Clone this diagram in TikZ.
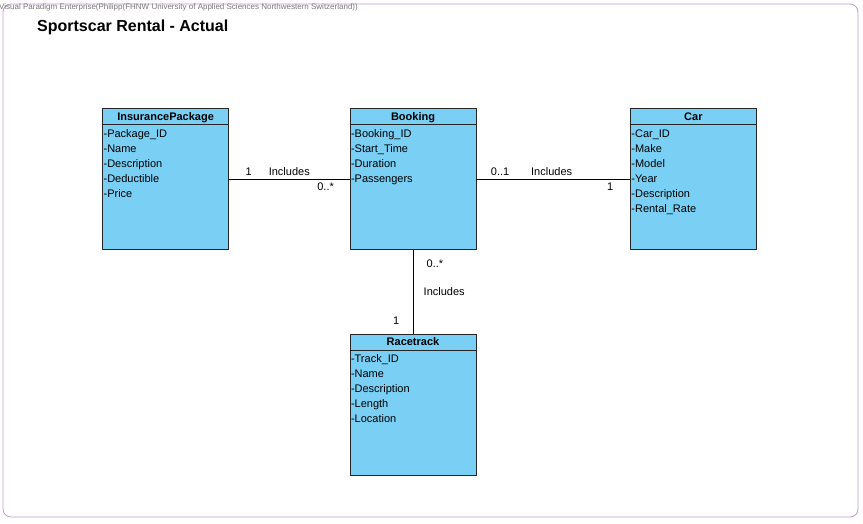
\documentclass[tikz,border=0pt]{standalone}
\usepackage{fontspec}
\setmainfont{Liberation Sans}
\usetikzlibrary{positioning}
\definecolor{classfill}{RGB}{122,207,245}
\definecolor{frameline}{RGB}{190,156,204}
\definecolor{stampgray}{RGB}{120,120,120}
\tikzset{
  classbox/.style={rectangle, draw=black!85, fill=classfill,
                   minimum width=126pt, minimum height=141pt, inner sep=0pt},
  classhead/.style={anchor=base, inner sep=0pt,
                    font=\fontsize{11}{13}\selectfont\bfseries},
  attrs/.style={anchor=north west, align=left, inner sep=1pt,
                font=\fontsize{11}{15}\selectfont},
  assoc/.style={draw=black, line width=0.8pt},
  mult/.style={font=\fontsize{11}{13}\selectfont},
}

\begin{document}
\begin{tikzpicture}[x=1pt, y=-1pt]
  \useasboundingbox (0,0) rectangle (863,523);
  \draw[frameline, line width=0.8pt, rounded corners=8pt] (3,4) rectangle (858,517);
  \node[anchor=west, inner sep=0pt, text=stampgray, font=\fontsize{8}{9}\selectfont]
    (stamp) at (-1,7) {Visual Paradigm Enterprise(Philipp(FHNW University of Applied Sciences Northwestern Switzerland))};
  \node[anchor=west, inner sep=0pt, font=\fontsize{16}{18}\selectfont\bfseries]
    (title) at (37,27) {Sportscar Rental - Actual};

  % classes
  \node[classbox]                      (booking)   at (413,179) {};
  \node[classbox, left=121pt of booking]  (insurance) {};
  \node[classbox, right=154pt of booking] (car)       {};
  \node[classbox, below=84pt of booking]  (racetrack) {};

  \foreach \cls/\name in {insurance/InsurancePackage, booking/Booking,
                          car/Car, racetrack/Racetrack} {
    \node[classhead] (\cls-head) at ([yshift=-12pt]\cls.north) {\name};
    \draw[black!85] ([yshift=-16pt]\cls.north west) -- ([yshift=-16pt]\cls.north east);
  }

  \node[attrs] (insurance-attrs) at ([shift={(0pt,-20pt)}]insurance.north west)
    {-Package\_ID\\-Name\\-Description\\-Deductible\\-Price};
  \node[attrs] (booking-attrs) at ([shift={(0pt,-20pt)}]booking.north west)
    {-Booking\_ID\\-Start\_Time\\-Duration\\-Passengers};
  \node[attrs] (car-attrs) at ([shift={(0pt,-20pt)}]car.north west)
    {-Car\_ID\\-Make\\-Model\\-Year\\-Description\\-Rental\_Rate};
  \node[attrs] (racetrack-attrs) at ([shift={(0pt,-20pt)}]racetrack.north west)
    {-Track\_ID\\-Name\\-Description\\-Length\\-Location};

  % associations
  \draw[assoc] (insurance) -- node[mult, above, pos=0.165]{1}
                              node[mult, above, pos=0.5]{Includes}
                              node[mult, below, pos=0.8]{0..*} (booking);
  \draw[assoc] (booking)   -- node[mult, above, pos=0.155]{0..1}
                              node[mult, above, pos=0.49]{Includes}
                              node[mult, below, pos=0.87]{1} (car);
  \draw[assoc] (booking)   -- node[mult, right=10pt, pos=0.17]{0..*}
                              node[mult, right=7pt, pos=0.5]{Includes}
                              node[mult, left=10pt, pos=0.84]{1} (racetrack);
\end{tikzpicture}
\end{document}
